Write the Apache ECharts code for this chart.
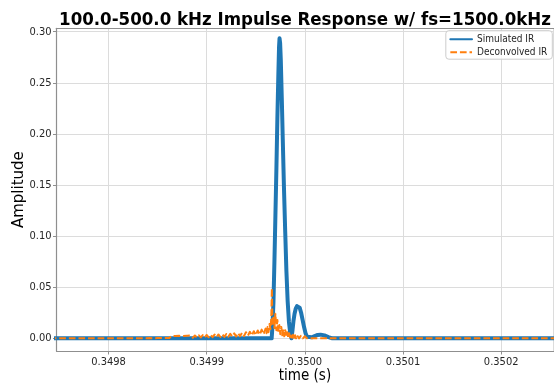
<!DOCTYPE html>
<html>
<head>
<meta charset="utf-8">
<script src="https://cdn.jsdelivr.net/npm/echarts@6/dist/echarts.min.js"></script>
<style>
  html, body { margin: 0; padding: 0; background: #ffffff; }
  #chart { width: 554px; height: 384px; }
</style>
</head>
<body>
<div id="chart"></div>
<script>
// Pulse arrival reference time (s); sample times below are offsets from it in microseconds.
const T0 = 0.35;

// Simulated impulse response (100-500 kHz band)
const simUs  = [-260, -33.8, -33.0, -32.0, -31.0, -30.0, -29.0, -28.0, -27.0, -26.3, -25.8, -25.2,
                -24.5, -23.5, -22.5, -21.3, -20.0, -18.8, -17.5, -16.2, -15.0, -13.6,
                -12.6, -11.6, -10.5, -9.3, -8.0, -6.7, -5.3, -3.8, -2.3, -0.8, 0.7, 2.2, 4.0,
                7.0, 10.0, 13.0, 16.0, 20.0, 24.0, 28.0, 260];
const simAmp = [0, 0, 0.012, 0.035, 0.075, 0.12, 0.165, 0.215, 0.258, 0.285, 0.2935, 0.289,
                0.272, 0.235, 0.195, 0.148, 0.104, 0.066, 0.036, 0.016, 0.006, 0.0,
                0.008, 0.017, 0.024, 0.029, 0.0315, 0.032, 0.030, 0.025, 0.018, 0.011, 0.005, 0.0015, 0.0,
                0.001, 0.0022, 0.0033, 0.0036, 0.0028, 0.0012, 0.0, 0];

// Deconvolved impulse response
const decUs  = [-260, -170,
                -168, -166, -164, -162, -160, -158, -156, -154, -152, -150, -148, -146, -144, -142,
                -140, -138, -136, -134, -132, -130, -128, -126, -124, -122, -120, -118, -116, -114,
                -112, -110, -108, -106, -104, -102, -100, -98, -96, -94, -92, -90, -88, -86, -84,
                -82, -80, -78, -76, -74, -72, -70, -68, -66, -64, -62, -60, -58, -56, -54, -52,
                -50, -48, -46, -44, -42, -40,
                -39, -38, -37, -36, -35, -34.2, -33.6, -33.0, -32, -31, -30, -29, -28, -27, -26,
                -25, -24, -23, -22, -21, -20, -19, -18, -17, -16, -15, -14, -13, -12, -11, -10,
                -9, -8, -6, -4, -2, 0, 2, 4, 6, 8, 10, 12, 14, 16, 18, 20, 22, 24, 26, 260];
const decAmp = [0, 0,
                0.0008, 0.0, 0.0014, 0.0, 0.0016, 0.0002, 0.0018, 0.0001, 0.002, 0.0003, 0.0019, 0.0002, 0.0021, 0.0004,
                0.0022, 0.0003, 0.0023, 0.0005, 0.0022, 0.0004, 0.0024, 0.0006, 0.0023, 0.0005, 0.0026, 0.0007, 0.0027, 0.0006,
                0.0028, 0.0008, 0.0029, 0.0009, 0.0031, 0.0008, 0.0033, 0.001, 0.0034, 0.0011, 0.0036, 0.0012, 0.0038, 0.0013, 0.004,
                0.0014, 0.0043, 0.0016, 0.0045, 0.0017, 0.0048, 0.0019, 0.0052, 0.0021, 0.0055, 0.0023, 0.006, 0.0026, 0.0064, 0.0028, 0.007,
                0.0031, 0.0077, 0.0035, 0.0085, 0.004, 0.0095,
                0.005, 0.011, 0.006, 0.014, 0.009, 0.02, 0.049, 0.012, 0.022, 0.01, 0.024, 0.008, 0.018, 0.006, 0.013,
                0.004, 0.011, 0.003, 0.009, 0.002, 0.008, 0.002, 0.006, 0.001, 0.005, 0.001, 0.004, 0.0005, 0.0035, 0.0005, 0.003,
                0.0, 0.003, 0.0, 0.0025, 0.0, 0.002, 0.0, 0.0018, 0.0, 0.0015, 0.0, 0.0012, 0, 0.001, 0, 0.0008, 0, 0.0005, 0, 0];

// Axis extents
const xMin = T0 - 253.0e-6, xMax = T0 + 253.3e-6;
const yMin = -0.0124, yMax = 0.3033;
const xStep = 0.0001, yStep = 0.05;

const toPairs = (us, amp) => us.map((u, i) => [T0 + u * 1e-6, amp[i]]);

const spine = '#8f8f8f';
const gridLine = '#dcdcdc';
const tickText = '#262626';
const cond = 'DejaVu Sans Condensed, DejaVu Sans, sans-serif';

const chart = echarts.init(document.getElementById('chart'), null, { renderer: 'canvas' });
chart.setOption({
  animation: false,
  backgroundColor: '#ffffff',
  title: {
    text: '100.0-500.0 kHz Impulse Response w/ fs=1500.0kHz',
    left: 300, top: 6, textAlign: 'center',
    textStyle: { fontFamily: cond, fontWeight: 'bold', fontSize: 18.5, color: '#000000' }
  },
  legend: {
    orient: 'vertical', right: 1.7, top: 30.7,
    padding: [3.5, 5, 2, 3.5], itemGap: 3, itemWidth: 21.7, itemHeight: 10,
    backgroundColor: 'rgba(255,255,255,0.8)', borderColor: '#cccccc', borderWidth: 1, borderRadius: 3,
    itemStyle: { opacity: 0 },
    textStyle: { fontFamily: cond, fontSize: 10, color: '#262626' },
    data: ['Simulated IR', 'Deconvolved IR']
  },
  grid: { left: 56.5, right: 0.5, top: 28.3, bottom: 33, containLabel: false, outerBoundsMode: 'none' },
  xAxis: [{
    type: 'value', min: xMin, max: xMax, splitNumber: 5, minInterval: xStep, maxInterval: xStep,
    name: 'time (s)', nameLocation: 'middle', nameGap: 18, nameMoveOverlap: false,
    nameTextStyle: { fontFamily: cond, fontSize: 15, color: '#000000' },
    axisLine: { show: true, onZero: false, lineStyle: { color: spine, width: 1.2 } },
    axisTick: { show: true, length: 3.5, lineStyle: { color: spine, width: 1 } },
    axisLabel: { margin: 6, fontFamily: cond, fontSize: 11, color: tickText,
                 formatter: v => v.toFixed(4), showMinLabel: false, showMaxLabel: false },
    splitLine: { show: true, lineStyle: { color: gridLine, width: 1 } }
  }, {
    type: 'value', position: 'top', min: xMin, max: xMax,
    axisLine: { show: true, onZero: false, lineStyle: { color: spine, width: 1.2 } },
    axisTick: { show: false }, axisLabel: { show: false }, splitLine: { show: false }
  }],
  yAxis: {
    type: 'value', min: yMin, max: yMax, splitNumber: 6, minInterval: yStep, maxInterval: yStep,
    name: 'Amplitude', nameLocation: 'middle', nameGap: 30, nameMoveOverlap: false,
    nameTextStyle: { fontFamily: 'DejaVu Sans, sans-serif', fontSize: 15, color: '#000000' },
    axisLine: { show: true, onZero: false, lineStyle: { color: spine, width: 1.2 } },
    axisTick: { show: true, length: 3.5, lineStyle: { color: spine, width: 1 } },
    axisLabel: { margin: 5, fontFamily: cond, fontSize: 11, color: tickText,
                 formatter: v => v.toFixed(2), showMinLabel: false, showMaxLabel: false },
    splitLine: { show: true, lineStyle: { color: gridLine, width: 1 } }
  },
  series: [{
    name: 'Simulated IR', type: 'line', xAxisIndex: 0, symbol: 'none', smooth: false,
    data: toPairs(simUs, simAmp),
    itemStyle: { color: '#1f77b4' },
    lineStyle: { color: '#1f77b4', width: 4, join: 'round', cap: 'round' },
    z: 2
  }, {
    name: 'Deconvolved IR', type: 'line', xAxisIndex: 0, symbol: 'none', smooth: false,
    data: toPairs(decUs, decAmp),
    itemStyle: { color: '#ff7f0e' },
    lineStyle: { color: '#ff7f0e', width: 2, type: [6.7, 2.9], join: 'round' },
    z: 3
  }]
});
</script>
</body>
</html>
